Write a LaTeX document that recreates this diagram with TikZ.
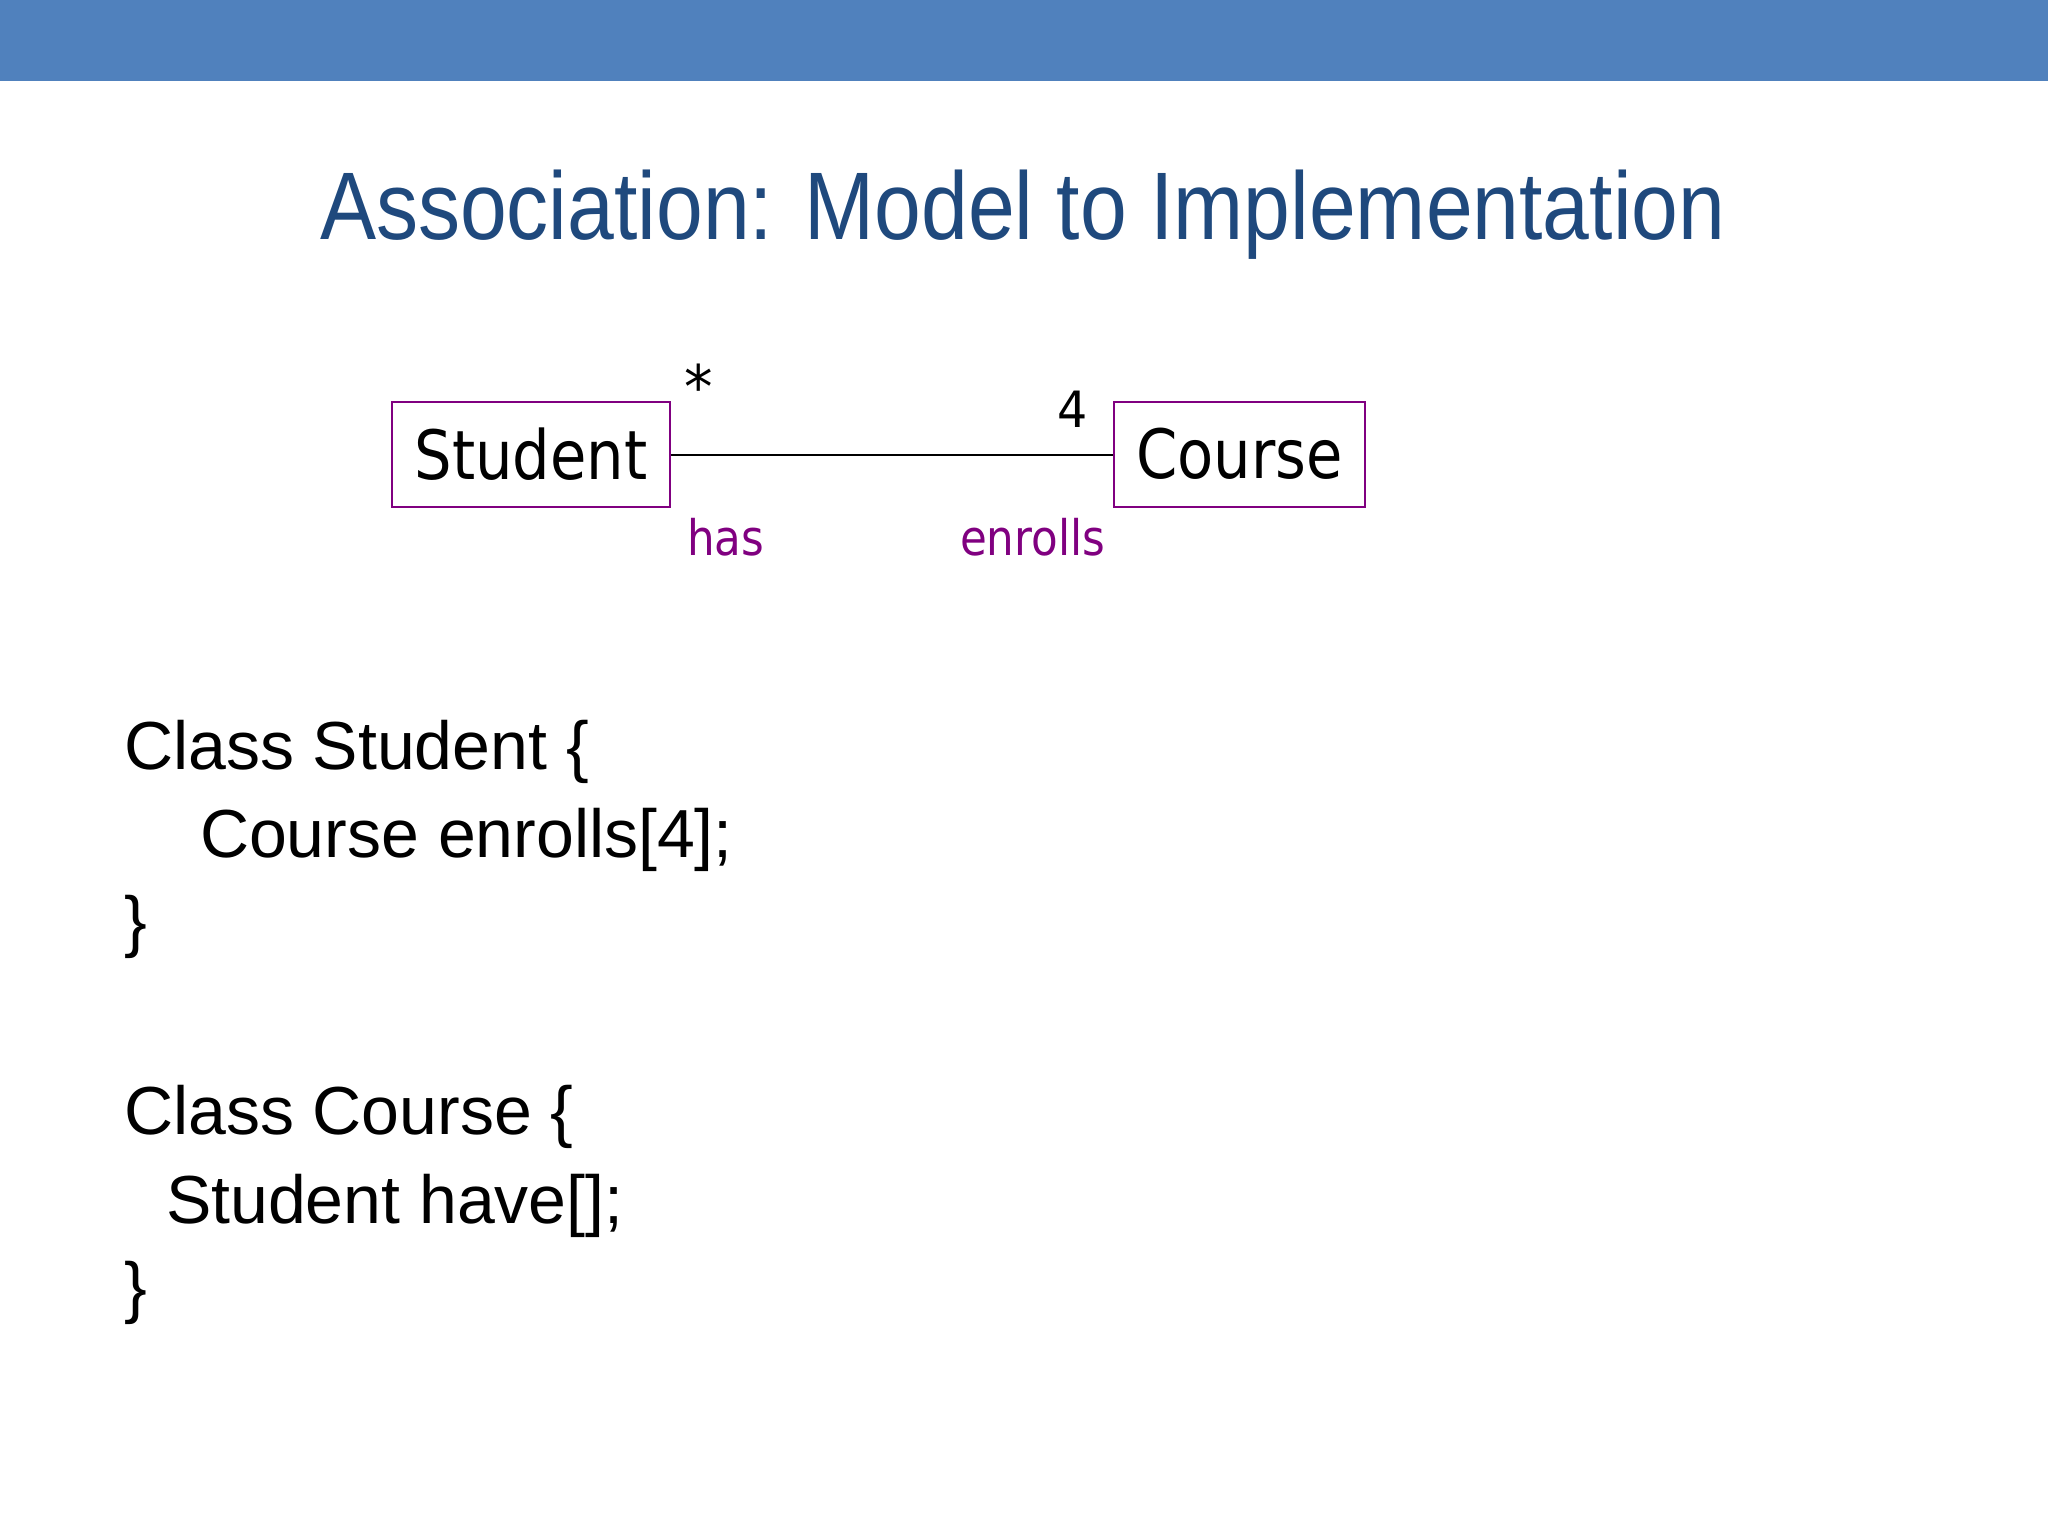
\documentclass[tikz,border=0pt]{standalone}
\usepackage{fontspec}
\setmainfont{Liberation Sans}
\newfontfamily\djv{DejaVu Sans}
\definecolor{barblue}{RGB}{80,129,189}
\definecolor{titleblue}{RGB}{31,73,125}
\definecolor{umlpurple}{RGB}{128,0,128}
\newcommand{\hsq}[2]{\scalebox{#1}[1]{#2}}
\begin{document}
\begin{tikzpicture}[x=0.5pt,y=-0.5pt,
  txt/.style={inner sep=0pt,outer sep=0pt,anchor=base west},
  umlbox/.style={draw=umlpurple,line width=1.2pt,inner sep=0pt,fill=white},
  codeline/.style={txt,font=\fontsize{34pt}{34pt}\selectfont},
  rolelabel/.style={txt,text=umlpurple,font=\djv\fontsize{24.5pt}{24.5pt}\selectfont},
  multlabel/.style={txt,font=\djv\fontsize{25pt}{25pt}\selectfont}]
\useasboundingbox (0,0) rectangle (2048,1536);
\fill[barblue] (0,0) rectangle (2048,81);
\node[txt,text=titleblue,font=\fontsize{48pt}{48pt}\selectfont] (title) at (320,239)
  {\hsq{0.876}{Association: Model to Implementation}};
% UML diagram
\node[umlbox,minimum width=139pt,minimum height=52.5pt] (student) at (531,454.5)
  {\djv\fontsize{34pt}{34pt}\selectfont\raisebox{-1.5pt}{\hsq{0.87}{Student}}};
\node[umlbox,minimum width=125.5pt,minimum height=52.5pt] (course) at (1239.5,454.5)
  {\djv\fontsize{34pt}{34pt}\selectfont\raisebox{1.5pt}{\hsq{0.87}{Course}}};
\draw[line width=1pt] (student.east) -- (course.west);
\node[multlabel,font=\djv\fontsize{30pt}{30pt}\selectfont] (mstar) at (684,408) {\hsq{0.95}{*}};
\node[multlabel] (mfour) at (1057,427) {\hsq{0.95}{4}};
\node[rolelabel] (has) at (687,555) {\hsq{0.89}{has}};
\node[rolelabel] (enrolls) at (960,555) {\hsq{0.89}{enrolls}};
% code
\node[codeline] (c1) at (124,769) {Class Student \{};
\node[codeline] (c2) at (200,857) {Course enrolls[4];};
\node[codeline] (c3) at (124,944) {\}};
\node[codeline] (c4) at (124,1134) {Class Course \{};
\node[codeline] (c5) at (166,1223) {Student have[];};
\node[codeline] (c6) at (124,1310) {\}};
\end{tikzpicture}
\end{document}
